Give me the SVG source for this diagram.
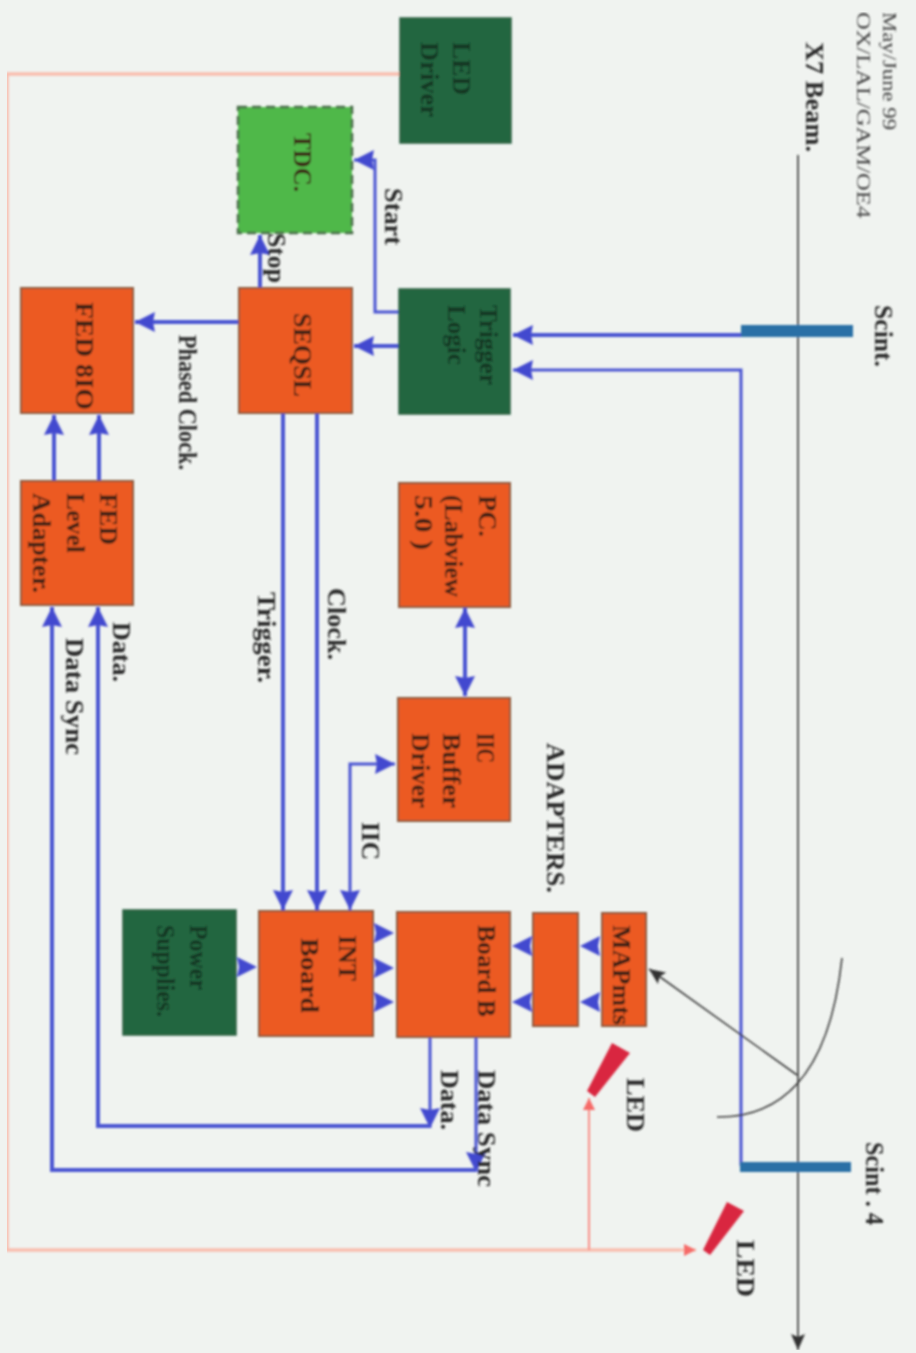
<svg xmlns="http://www.w3.org/2000/svg" width="916" height="1353" viewBox="0 0 916 1353">
<style>
text{font-family:"Liberation Serif","Times New Roman",serif;font-size:25px;font-weight:bold;fill:#2a2a2a;stroke:none}
.thin{font-size:19px;font-weight:normal;fill:#444}
.in{fill:#3a2014}
.ing{fill:#123524}
.o{fill:#ec5a22;stroke:#8a5a3c;stroke-width:2}
.g{fill:#22663f;stroke:#2c5f42;stroke-width:1.5}
.c{fill:none;stroke:#4a55d2;stroke-width:4}
.ct{fill:none;stroke:#4a55d2;stroke-width:3}
.p{fill:none;stroke:#f9bdae;stroke-width:3.5}
.pr{fill:none;stroke:#f98e86;stroke-width:2}
.k{fill:none;stroke:#3c3c3c;stroke-width:1.6}
.a{marker-end:url(#ab)}
.aa{marker-start:url(#abs);marker-end:url(#ab)}
</style>
<defs>
<marker id="ab" markerUnits="userSpaceOnUse" markerWidth="20" markerHeight="22" viewBox="0 0 20 22" refX="20" refY="11" orient="auto"><path d="M0,1 L20,11 L0,21 L2,11 z" fill="#4249cf"/></marker>
<marker id="abs" markerUnits="userSpaceOnUse" markerWidth="20" markerHeight="22" viewBox="0 0 20 22" refX="20" refY="11" orient="auto-start-reverse"><path d="M0,1 L20,11 L0,21 L2,11 z" fill="#4249cf"/></marker>
<marker id="ak" markerUnits="userSpaceOnUse" markerWidth="16" markerHeight="16" viewBox="0 0 16 16" refX="16" refY="8" orient="auto"><path d="M0,1 L16,8 L0,15 L3,8 z" fill="#333"/></marker>
<marker id="ap" markerUnits="userSpaceOnUse" markerWidth="12" markerHeight="12" viewBox="0 0 12 12" refX="12" refY="6" orient="auto"><path d="M0,0 L12,6 L0,12 z" fill="#f66a68"/></marker>
<filter id="soft" x="0" y="0" width="100%" height="100%"><feGaussianBlur stdDeviation="1"/></filter>
</defs>
<rect width="916" height="1353" fill="#f0f3f0"/>
<g filter="url(#soft)">
<g id="connectors">
<path class="p" d="M400,74 H7 V1250 H680"/>
<path class="pr" d="M589,1250 V1108"/>
<path d="M680,1250 L696,1250" fill="none" stroke="#f9bdae" stroke-width="3" marker-end="url(#ap)"/>
<path d="M589,1108 V1098" fill="none" stroke="#f98e86" stroke-width="2" marker-end="url(#ap)"/>
<path class="c a" d="M741,335 H513"/>
<path class="ct a" d="M741,1166 V370 H513"/>
<path class="ct a" d="M399,312 H375 V160 H354"/>
<path class="c a" d="M399,346 H354"/>
<path class="c a" d="M260,288 V235"/>
<path class="c a" d="M238,322 H135"/>
<path class="c a" d="M283,413 V910"/>
<path class="c a" d="M317,413 V910"/>
<path class="ct aa" d="M350,910 V764 H395"/>
<path class="c aa" d="M465,608 V696"/>
<path class="c a" d="M54,481 V415"/>
<path class="c a" d="M99,481 V415"/>
<path class="ct a" d="M430,1036 V1128"/>
<path class="c a" d="M430,1126 H98 V607"/>
<path class="ct a" d="M476,1036 V1172"/>
<path class="c a" d="M476,1170 H52 V607"/>
<path class="a" d="M237,967 H257"/>
<path class="a" d="M374,933 H394"/>
<path class="a" d="M374,968 H394"/>
<path class="a" d="M374,1002 H394"/>
<path class="a" d="M533,946 H512"/>
<path class="a" d="M533,1002 H512"/>
<path class="a" d="M601,946 H580"/>
<path class="a" d="M601,1002 H580"/>
<path class="k" d="M797,1075 L649,969" marker-end="url(#ak)"/>
<path class="k" d="M842,958 Q825,1118 717,1117"/>
</g>
<g id="beam">
<path d="M798,155 V1350" fill="none" stroke="#333" stroke-width="1.6" marker-end="url(#ak)"/>
<text transform="translate(806,42) rotate(90)" textLength="110" lengthAdjust="spacingAndGlyphs">X7 Beam.</text>
</g>
<g id="header">
<text class="thin" transform="translate(883,12) rotate(90)" textLength="118" lengthAdjust="spacingAndGlyphs">May/June 99</text>
<text class="thin" transform="translate(857,12) rotate(90)" textLength="206" lengthAdjust="spacingAndGlyphs">OX/LAL/GAM/OE4</text>
</g>
<g id="scint-top">
<rect x="741" y="325" width="112" height="12" fill="#2c6fa6"/>
<text transform="translate(875,305) rotate(90)" textLength="62" lengthAdjust="spacingAndGlyphs">Scint.</text>
</g>
<g id="scint-4">
<rect x="740" y="1162" width="111" height="10" fill="#2c6fa6"/>
<text transform="translate(866,1142) rotate(90)" textLength="83" lengthAdjust="spacingAndGlyphs">Scint . 4</text>
</g>
<g id="led-driver"><rect class="g" x="400" y="18" width="111" height="125"/>
<text class="ing" transform="translate(453,42) rotate(90)" textLength="53" lengthAdjust="spacingAndGlyphs">LED</text>
<text class="ing" transform="translate(421,42) rotate(90)" textLength="75" lengthAdjust="spacingAndGlyphs">Driver</text></g>
<g id="tdc"><rect x="238" y="107" width="114" height="126" fill="#4fb848" stroke="#4a6b48" stroke-width="2.5" stroke-dasharray="9 5"/>
<text class="in" transform="translate(294,133) rotate(90)" textLength="59" lengthAdjust="spacingAndGlyphs">TDC.</text></g>
<g id="trigger-logic"><rect class="g" x="399" y="289" width="111" height="125"/>
<text class="ing" transform="translate(480,305) rotate(90)" textLength="80" lengthAdjust="spacingAndGlyphs">Trigger</text>
<text class="ing" transform="translate(448,305) rotate(90)" textLength="60" lengthAdjust="spacingAndGlyphs">Logic</text></g>
<g id="seqsl"><rect class="o" x="239" y="288" width="113" height="125"/>
<text class="in" transform="translate(294,313) rotate(90)" textLength="84" lengthAdjust="spacingAndGlyphs">SEQSL</text></g>
<g id="fed-8io"><rect class="o" x="21" y="288" width="112" height="125"/>
<text class="in" transform="translate(76,302) rotate(90)" textLength="108" lengthAdjust="spacingAndGlyphs">FED 8IO</text></g>
<g id="fed-level-adapter"><rect class="o" x="21" y="481" width="112" height="124"/>
<text class="in" transform="translate(100,493) rotate(90)" textLength="52" lengthAdjust="spacingAndGlyphs">FED</text>
<text class="in" transform="translate(67,493) rotate(90)" textLength="60" lengthAdjust="spacingAndGlyphs">Level</text>
<text class="in" transform="translate(33,493) rotate(90)" textLength="100" lengthAdjust="spacingAndGlyphs">Adapter.</text></g>
<g id="pc"><rect class="o" x="399" y="483" width="111" height="124"/>
<text class="in" transform="translate(479,495) rotate(90)" textLength="42" lengthAdjust="spacingAndGlyphs">PC.</text>
<text class="in" transform="translate(445,495) rotate(90)" textLength="102" lengthAdjust="spacingAndGlyphs">(Labview</text>
<text class="in" transform="translate(415,495) rotate(90)" textLength="55" lengthAdjust="spacingAndGlyphs">5.0 )</text></g>
<g id="iic-buffer-driver"><rect class="o" x="398" y="698" width="112" height="123"/>
<text class="in" transform="translate(477,733) rotate(90)" textLength="30" lengthAdjust="spacingAndGlyphs">IIC</text>
<text class="in" transform="translate(443,733) rotate(90)" textLength="75" lengthAdjust="spacingAndGlyphs">Buffer</text>
<text class="in" transform="translate(412,733) rotate(90)" textLength="75" lengthAdjust="spacingAndGlyphs">Driver</text></g>
<g id="power-supplies"><rect class="g" x="123" y="910" width="113" height="125"/>
<text class="ing" transform="translate(190,925) rotate(90)" textLength="65" lengthAdjust="spacingAndGlyphs">Power</text>
<text class="ing" transform="translate(157,925) rotate(90)" textLength="92" lengthAdjust="spacingAndGlyphs">Supplies.</text></g>
<g id="int-board"><rect class="o" x="259" y="911" width="114" height="125"/>
<text class="in" transform="translate(339,935) rotate(90)" textLength="46" lengthAdjust="spacingAndGlyphs">INT</text>
<text class="in" transform="translate(301,938) rotate(90)" textLength="75" lengthAdjust="spacingAndGlyphs">Board</text></g>
<g id="board-b"><rect class="o" x="397" y="912" width="113" height="125"/>
<text class="in" transform="translate(478,925) rotate(90)" textLength="92" lengthAdjust="spacingAndGlyphs">Board B</text></g>
<g id="adapters"><rect class="o" x="533" y="913" width="45" height="113"/>
<text transform="translate(547,743) rotate(90)" textLength="150" lengthAdjust="spacingAndGlyphs">ADAPTERS.</text></g>
<g id="mapmts"><rect class="o" x="602" y="913" width="44" height="113"/>
<text class="in" transform="translate(613,925) rotate(90)" textLength="100" lengthAdjust="spacingAndGlyphs">MAPmts</text></g>
<g id="led-1"><polygon points="612,1043 630,1053 595,1097 587,1091" fill="#d9283f"/>
<text transform="translate(627,1078) rotate(90)" textLength="54" lengthAdjust="spacingAndGlyphs">LED</text></g>
<g id="led-2"><polygon points="727,1202 744,1211 710,1255 703,1250" fill="#d9283f"/>
<text transform="translate(737,1240) rotate(90)" textLength="57" lengthAdjust="spacingAndGlyphs">LED</text></g>
<g id="labels">
<text transform="translate(385,188) rotate(90)" textLength="57" lengthAdjust="spacingAndGlyphs">Start</text>
<text transform="translate(268,233) rotate(90)" textLength="50" lengthAdjust="spacingAndGlyphs">Stop</text>
<text transform="translate(179,335) rotate(90)" textLength="135" lengthAdjust="spacingAndGlyphs">Phased Clock.</text>
<text transform="translate(328,588) rotate(90)" textLength="72" lengthAdjust="spacingAndGlyphs">Clock.</text>
<text transform="translate(258,592) rotate(90)" textLength="91" lengthAdjust="spacingAndGlyphs">Trigger.</text>
<text transform="translate(362,822) rotate(90)" textLength="38" lengthAdjust="spacingAndGlyphs">IIC</text>
<text transform="translate(113,622) rotate(90)" textLength="60" lengthAdjust="spacingAndGlyphs">Data.</text>
<text transform="translate(66,638) rotate(90)" textLength="117" lengthAdjust="spacingAndGlyphs">Data Sync</text>
<text transform="translate(441,1070) rotate(90)" textLength="60" lengthAdjust="spacingAndGlyphs">Data.</text>
<text transform="translate(478,1070) rotate(90)" textLength="117" lengthAdjust="spacingAndGlyphs">Data Sync</text>
</g>
</g>
</svg>
